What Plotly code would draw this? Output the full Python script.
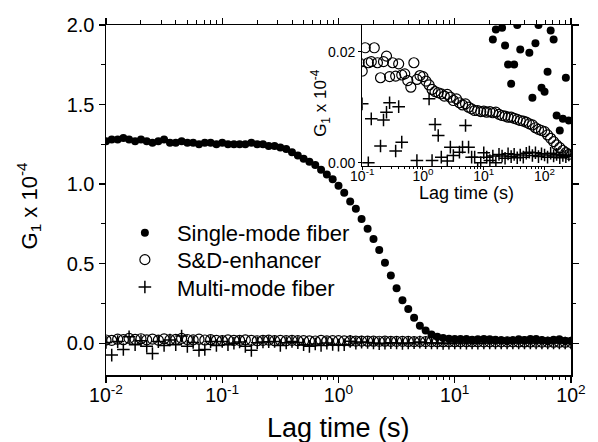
import plotly.graph_objects as go

# ---------------- data ----------------
lag_time = [
    0.0100, 0.0112, 0.0126, 0.0141, 0.0158, 0.0178, 0.0200, 0.0224, 0.0251, 0.0282,
    0.0316, 0.0355, 0.0398, 0.0447, 0.0501, 0.0562, 0.0631, 0.0708, 0.0794, 0.0891,
    0.100, 0.112, 0.126, 0.141, 0.158, 0.178, 0.200, 0.224, 0.251, 0.282,
    0.316, 0.355, 0.398, 0.447, 0.501, 0.562, 0.631, 0.708, 0.794, 0.891,
    1.00, 1.12, 1.26, 1.41, 1.58, 1.78, 2.00, 2.24, 2.51, 2.82,
    3.16, 3.55, 3.98, 4.47, 5.01, 5.62, 6.31, 7.08, 7.94, 8.91,
    10.0, 11.2, 12.6, 14.1, 15.8, 17.8, 20.0, 22.4, 25.1, 28.2,
    31.6, 35.5, 39.8, 44.7, 50.1, 56.2, 63.1, 70.8, 79.4, 89.1,
    100, 112, 126, 141, 158, 178, 200, 224, 251,
]

single_mode = [
    1.27, 1.28, 1.28, 1.29, 1.28, 1.27, 1.28, 1.27, 1.26, 1.27,
    1.28, 1.26, 1.26, 1.27, 1.26, 1.26, 1.25, 1.26, 1.26, 1.25,
    1.26, 1.25, 1.25, 1.25, 1.25, 1.26, 1.25, 1.25, 1.24, 1.24,
    1.23, 1.22, 1.20, 1.18, 1.16, 1.14, 1.12, 1.09, 1.06, 1.03,
    0.99, 0.945, 0.89, 0.845, 0.78, 0.72, 0.655, 0.585, 0.505, 0.425,
    0.345, 0.27, 0.215, 0.16, 0.11, 0.08, 0.055, 0.04, 0.032, 0.028,
    0.027, 0.026, 0.026, 0.0222, 0.0240, 0.027, 0.0243, 0.0211, 0.0177, 0.0142,
    0.0177, 0.0248, 0.0204, 0.026, 0.027, 0.0198, 0.0117, 0.0215, 0.0248, 0.0135,
    0.0128, 0.0164, 0.0238, 0.0222, 0.0085, 0.0058, 0.0079, 0.0153, 0.0076,
]

sd_enhancer = [
    0.020, 0.018, 0.025, 0.022, 0.030, 0.024, 0.028, 0.021, 0.026, 0.019,
    0.027, 0.022, 0.024, 0.030, 0.023, 0.021, 0.025, 0.020, 0.022, 0.018,
    0.0165, 0.0207, 0.0180, 0.0182, 0.0207, 0.0180, 0.0153, 0.0182, 0.0192, 0.0155,
    0.0180, 0.0156, 0.0178, 0.0158, 0.0160, 0.0148, 0.0136, 0.0180, 0.0150, 0.0157,
    0.0155, 0.0147, 0.0140, 0.0132, 0.0128, 0.0126, 0.0124, 0.0120, 0.0123, 0.0118,
    0.0112, 0.0115, 0.0108, 0.0104, 0.0106, 0.0100, 0.0097, 0.0094, 0.0094, 0.0092,
    0.0093, 0.0091, 0.0092, 0.0090, 0.0091, 0.0087, 0.0085, 0.0084, 0.0082, 0.0082,
    0.0080, 0.0078, 0.0076, 0.0075, 0.0073, 0.0070, 0.0068, 0.0063, 0.0060, 0.0058,
    0.0056, 0.0050, 0.0044, 0.0038, 0.0032, 0.0027, 0.0022, 0.0018, 0.0015,
]

multi_mode = [
    0.005, -0.075, 0.010, -0.040, 0.040, -0.010, 0.015, -0.020, -0.065, 0.010,
    -0.015, 0.020, -0.010, 0.045, -0.020, 0.005, -0.045, -0.040, 0.010, -0.015,
    0.0106, -0.010, 0.0000, 0.0079, -0.020, -0.045, 0.0030, 0.0077, 0.0091, 0.0108,
    -0.015, 0.0021, 0.0101, 0.0037, -0.010, -0.020, -0.005, -0.015, 0.0004, -0.008,
    -0.012, -0.010, 0.0115, 0.0004, 0.0069, 0.0049, 0.0010, -0.003, 0.0003, 0.0028,
    0.0013, -0.002, 0.0019, 0.0028, 0.0067, 0.0028, 0.0010, 0.0010, -0.001, 0.0000,
    0.0018, 0.0010, 0.0004, 0.0012, 0.0000, 0.0015, 0.0012, 0.0008, 0.0016, 0.0011,
    0.0015, 0.0009, 0.0014, 0.0010, 0.0017, 0.0019, 0.0013, 0.0018, 0.0011, 0.0016,
    0.0014, 0.0010, 0.0017, 0.0012, 0.0015, 0.0009, 0.0013, 0.0011, 0.0014,
]

series_names = ["Single-mode fiber", "S&D-enhancer", "Multi-mode fiber"]

main_xtick_vals = [0.01, 0.1, 1, 10, 100]
main_xtick_text = ["10<sup>-2</sup>", "10<sup>-1</sup>", "10<sup>0</sup>", "10<sup>1</sup>", "10<sup>2</sup>"]
main_ytick_vals = [0.0, 0.5, 1.0, 1.5, 2.0]
inset_xtick_vals = [0.1, 1, 10, 100]
inset_xtick_text = ["10<sup>-1</sup>", "10<sup>0</sup>", "10<sup>1</sup>", "10<sup>2</sup>"]
inset_ytick_vals = [0.0, 0.02]

x_title = "Lag time (s)"
y_title = "G<sub>1</sub> x 10<sup>-4</sup>"

FONT = "Arial, Liberation Sans, sans-serif"

styles = [
    dict(symbol="circle", size=8, color="black", line=dict(width=0)),
    dict(symbol="circle-open", size=10, color="black", line=dict(width=1.2, color="black")),
    dict(symbol="cross-thin-open", size=9, color="black", line=dict(width=1.5, color="black")),
]
all_series = [single_mode, sd_enhancer, multi_mode]
legend_ids = ["legend", "legend2", "legend3"]
legend_rows_y = [0.406, 0.329, 0.251]

fig = go.Figure()
for name, ys, st, lg in zip(series_names, all_series, styles, legend_ids):
    fig.add_trace(go.Scatter(x=lag_time, y=ys, mode="markers", name=name,
                             marker=st, xaxis="x", yaxis="y", legend=lg))
for name, ys, st in zip(series_names, all_series, styles):
    fig.add_trace(go.Scatter(x=lag_time, y=ys, mode="markers", name=name,
                             marker=st, xaxis="x2", yaxis="y2", showlegend=False))

legend_common = dict(x=0.0148, xanchor="left", yanchor="middle",
                     font=dict(size=22, family=FONT, color="black"),
                     bgcolor="rgba(0,0,0,0)", itemwidth=54)
legends = {}
for lg, yy in zip(legend_ids, legend_rows_y):
    legends[lg] = dict(legend_common, y=yy)

fig.update_layout(
    width=598, height=442,
    margin=dict(l=106, r=18, t=25, b=67),
    paper_bgcolor="white", plot_bgcolor="white",
    font=dict(family=FONT, color="black"),
    showlegend=True,
    **legends,
    xaxis=dict(type="log", range=[-2, 2], domain=[0, 1],
               tickmode="array", tickvals=main_xtick_vals, ticktext=main_xtick_text,
               ticks="outside", ticklen=6, tickwidth=1.3, tickcolor="black",
               showline=True, linewidth=1.5, linecolor="black", mirror="ticks",
               showgrid=False, zeroline=False, ticklabelstandoff=-4,
               tickfont=dict(size=19.5, family=FONT),
               minor=dict(ticks="outside", ticklen=3.5, tickwidth=1, tickcolor="black", dtick="D1", showgrid=False)),
    yaxis=dict(range=[-0.2, 2.0], domain=[0, 1],
               tickvals=main_ytick_vals, tickformat=".1f",
               ticks="outside", ticklen=6, tickwidth=1.3, tickcolor="black",
               showline=True, linewidth=1.5, linecolor="black", mirror="ticks",
               showgrid=False, zeroline=False,
               tickfont=dict(size=20, family=FONT),
               minor=dict(ticks="outside", ticklen=3.5, tickwidth=1, tickcolor="black", dtick=0.25, showgrid=False)),
    xaxis2=dict(type="log", range=[-1, 2.435], domain=[0.551, 1.0], anchor="y2",
                tickmode="array", tickvals=inset_xtick_vals, ticktext=inset_xtick_text,
                ticks="outside", ticklen=3, tickwidth=1, tickcolor="black",
                showline=True, linewidth=1.2, linecolor="black", mirror=True,
                showgrid=False, zeroline=False, ticklabelstandoff=-6,
                tickfont=dict(size=14, family=FONT),
                minor=dict(ticks="outside", ticklen=2, tickwidth=1, tickcolor="black", dtick="D1", showgrid=False)),
    yaxis2=dict(range=[-0.0006, 0.0248], domain=[0.597, 1.0], anchor="x2",
                tickvals=inset_ytick_vals, tickformat=".2f",
                ticks="outside", ticklen=3, tickwidth=1, tickcolor="black",
                showline=True, linewidth=1.2, linecolor="black", mirror=True,
                showgrid=False, zeroline=False,
                tickfont=dict(size=14, family=FONT)),
    annotations=[
        dict(text=x_title, xref="paper", yref="paper", x=0.5, y=(375 - 428) / 350,
             xanchor="center", yanchor="middle", showarrow=False,
             font=dict(size=27, family=FONT, color="black")),
        dict(text=y_title, xref="paper", yref="paper", x=(28 - 106) / 474, y=(375 - 205) / 350,
             xanchor="center", yanchor="middle", showarrow=False, textangle=-90,
             font=dict(size=22, family=FONT, color="black")),
        dict(text=x_title, xref="paper", yref="paper", x=(473 - 106) / 474, y=(375 - 193) / 350,
             xanchor="center", yanchor="middle", showarrow=False,
             font=dict(size=18, family=FONT, color="black")),
        dict(text=y_title, xref="paper", yref="paper", x=(324 - 106) / 474, y=(375 - 103) / 350,
             xanchor="center", yanchor="middle", showarrow=False, textangle=-90,
             font=dict(size=17, family=FONT, color="black")),
    ],
)

fig.write_html("out.html", config={"displayModeBar": False, "staticPlot": True},
               post_script="document.body.style.margin='0px';document.body.style.padding='0px';")
